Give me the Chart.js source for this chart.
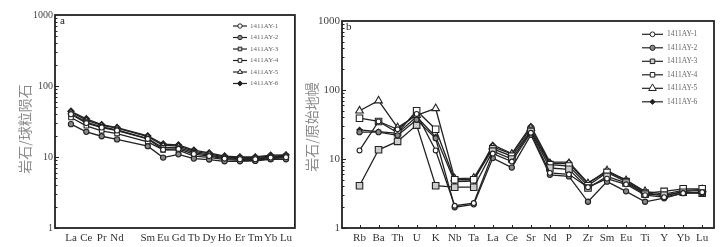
<!DOCTYPE html>
<html lang="zh">
<head>
<meta charset="UTF-8">
<title>REE and trace element patterns</title>
<script src="https://cdn.jsdelivr.net/npm/chart.js"></script>
<style>
    body { margin: 0; background: #fff; }
    #wrap { position: relative; width: 724px; height: 247px; }
    #reeChart { position: absolute; left: 0; top: 0; }
    #traceChart { position: absolute; left: 300px; top: 0; }
</style>
</head>
<body>
<div id="wrap">
    <canvas id="reeChart" width="300" height="247"></canvas>
    <canvas id="traceChart" width="424" height="247"></canvas>
</div>
<script>
// sample names (legend)
const sampleNames = ['1411AY-1', '1411AY-2', '1411AY-3', '1411AY-4', '1411AY-5', '1411AY-6'];

// a: chondrite normalised REE (Pm left blank)
const reeLabels = ['La', 'Ce', 'Pr', 'Nd', '', 'Sm', 'Eu', 'Gd', 'Tb', 'Dy', 'Ho', 'Er', 'Tm', 'Yb', 'Lu'];
const reeAY1 = [40, 30, 26, 23.6, null, 18, 12.7, 13.0, 11.0, 10.3, 9.5, 9.3, 9.3, 9.8, 9.9];
const reeAY2 = [29, 22.6, 19.6, 17.7, null, 14.2, 9.8, 10.9, 9.5, 9.2, 8.7, 8.7, 8.8, 9.3, 9.3];
const reeAY3 = [41, 31, 26.6, 24, null, 18.2, 13.5, 13.6, 11.5, 10.6, 9.7, 9.5, 9.5, 10.0, 10.2];
const reeAY4 = [36, 27.5, 23.4, 21.4, null, 16.3, 12.6, 12.5, 10.3, 9.9, 9.2, 9.0, 9.0, 9.5, 9.8];
const reeAY5 = [43, 33, 28, 25.5, null, 19.3, 14.6, 14.3, 12.0, 11.1, 10.0, 9.8, 9.8, 10.3, 10.5];
const reeAY6 = [44, 34.5, 28.5, 26, null, 19.8, 15.2, 14.8, 12.5, 11.4, 10.3, 10.0, 10.0, 10.6, 10.7];

// b: primitive mantle normalised trace elements
const traceLabels = ['Rb', 'Ba', 'Th', 'U', 'K', 'Nb', 'Ta', 'La', 'Ce', 'Sr', 'Nd', 'P', 'Zr', 'Sm', 'Eu', 'Ti', 'Y', 'Yb', 'Lu'];
const trAY1 = [13.3, 35, 27, 45, 13.3, 2.1, 2.3, 12, 9.2, 24, 6.3, 6.0, 3.9, 5.2, 4.3, 3.0, 2.8, 3.2, 3.3];
const trAY2 = [24.5, 24.5, 22, 37, 20, 2.0, 2.2, 10.3, 7.5, 22.4, 5.9, 5.6, 2.4, 4.7, 3.4, 2.4, 2.7, 3.2, 3.2];
const trAY3 = [4.1, 13.6, 18, 31, 4.1, 3.9, 3.9, 13, 10, 25, 7.4, 7.1, 3.8, 5.6, 4.5, 3.1, 3.0, 3.3, 3.2];
const trAY4 = [39, 35, 24, 50, 27, 5.0, 5.0, 14, 11, 26, 8.3, 7.9, 4.1, 6.4, 4.7, 3.2, 3.4, 3.7, 3.7];
const trAY5 = [50, 70, 28.5, 43, 54, 5.2, 5.3, 15, 11.8, 28, 8.6, 8.6, 4.4, 6.8, 4.9, 3.4, 3.1, 3.5, 3.6];
const trAY6 = [26.5, 25, 23.5, 41, 21, 4.7, 4.8, 16, 12, 30, 9.0, 9.0, 4.5, 6.6, 5.0, 3.3, 2.9, 3.4, 3.5];

const yTickValues = [1, 10, 100, 1000];

// marker looks per sample
const markerStyles = [
    { pointStyle: 'circle', fill: '#fff' },
    { pointStyle: 'circle', fill: '#888' },
    { pointStyle: 'rect', fill: '#ccc' },
    { pointStyle: 'rect', fill: '#fff' },
    { pointStyle: 'triangle', fill: '#fff' },
    { pointStyle: 'rectRot', fill: '#222' }
];

function makeDatasets(series, radii) {
    return series.map((vals, i) => ({
        label: sampleNames[i],
        data: vals.map((v, j) => ({ x: j, y: v })).filter(p => p.y !== null),
        borderColor: '#222',
        borderWidth: 1.3,
        pointStyle: markerStyles[i].pointStyle,
        pointBackgroundColor: markerStyles[i].fill,
        pointBorderColor: '#222',
        pointBorderWidth: 1.1,
        pointRadius: radii[i],
        tension: 0,
        fill: false
    }));
}

function drawMarker(ctx, style, r, x, y) {
    if (window.Chart && Chart.helpers && Chart.helpers.drawPoint) {
        Chart.helpers.drawPoint(ctx, { pointStyle: style, radius: r, rotation: 0, borderWidth: 1 }, x, y);
    } else {
        ctx.beginPath(); ctx.arc(x, y, r, 0, Math.PI * 2); ctx.fill(); ctx.stroke();
    }
}

// frame, inward ticks, panel letter, axis title and legend
function decor(cfg) {
    return {
        id: 'decor',
        afterDraw(chart) {
            const ctx = chart.ctx;
            const a = chart.chartArea;
            const ys = chart.scales.y, xs = chart.scales.x;
            ctx.save();
            ctx.strokeStyle = '#222';
            ctx.lineWidth = 1;
            ctx.beginPath();
            for (let k = 0; k < 3; k++) {
                for (let m = 1; m <= 9; m++) {
                    const y = Math.round(ys.getPixelForValue(m * Math.pow(10, k))) + 0.5;
                    ctx.moveTo(a.left, y);
                    ctx.lineTo(a.left + (m === 1 ? 4 : 2.5), y);
                }
            }
            if (cfg.xTicks) {
                for (let i = 0; i < cfg.labels.length; i++) {
                    const x = Math.round(xs.getPixelForValue(i)) + 0.5;
                    ctx.moveTo(x, a.bottom);
                    ctx.lineTo(x, a.bottom - 3);
                }
            }
            ctx.stroke();

            ctx.lineWidth = 1.8;
            ctx.strokeRect(a.left, a.top, a.right - a.left, a.bottom - a.top);

            ctx.fillStyle = '#222';
            ctx.font = '11px "Liberation Serif"';
            ctx.textBaseline = 'middle';
            ctx.textAlign = 'left';
            ctx.fillText(cfg.letter, cfg.letterX, cfg.letterY);

            ctx.save();
            ctx.translate(cfg.titleX, cfg.titleY);
            ctx.rotate(-Math.PI / 2);
            ctx.textAlign = 'center';
            ctx.fillStyle = '#8c8c8c';
            ctx.font = '14px "Noto Sans CJK SC"';
            ctx.fillText(cfg.title, 0, 0);
            ctx.restore();

            const lg = cfg.legend;
            chart.data.datasets.forEach((ds, i) => {
                const y = lg.y + i * lg.step;
                ctx.strokeStyle = '#222';
                ctx.lineWidth = 1.2;
                ctx.beginPath();
                ctx.moveTo(lg.x0, y);
                ctx.lineTo(lg.x1, y);
                ctx.stroke();
                ctx.fillStyle = ds.pointBackgroundColor;
                ctx.strokeStyle = '#222';
                ctx.lineWidth = 1;
                drawMarker(ctx, ds.pointStyle, lg.radii[i], (lg.x0 + lg.x1) / 2, y);
                ctx.fillStyle = '#666';
                ctx.font = lg.font;
                ctx.textAlign = 'left';
                ctx.fillText(ds.label, lg.tx, y);
            });
            ctx.restore();
        }
    };
}

function makeOptions(labels, xmin, xmax, yWidth, yFont) {
    return {
        responsive: false,
        animation: false,
        layout: { padding: 0 },
        plugins: { legend: { display: false }, tooltip: { enabled: false } },
        elements: { line: { spanGaps: true } },
        scales: {
            x: {
                type: 'linear',
                min: xmin,
                max: xmax,
                grid: { display: false, drawTicks: false },
                border: { display: false },
                afterBuildTicks: s => { s.ticks = labels.map((l, i) => ({ value: i })); },
                afterFit: s => { s.height = 19; },
                ticks: {
                    autoSkip: false,
                    maxRotation: 0,
                    padding: 4,
                    color: '#333',
                    font: { family: 'Liberation Serif', size: 11 },
                    callback: v => labels[v] || ''
                }
            },
            y: {
                type: 'logarithmic',
                min: 1,
                max: 1000,
                grid: { display: false, drawTicks: false },
                border: { display: false },
                afterBuildTicks: s => { s.ticks = yTickValues.map(v => ({ value: v })); },
                afterFit: s => { s.width = yWidth; },
                ticks: {
                    padding: 2,
                    color: '#444',
                    font: { family: 'Liberation Serif', size: yFont },
                    callback: v => String(v)
                }
            }
        }
    };
}

// chart a
const reeRadii = [2.5, 2.6, 3.2, 3.2, 3.2, 3.2];
const reeOpts = makeOptions(reeLabels, -1.04, 14.58, 55, 10);
reeOpts.layout.padding = { left: 0, right: 4, top: 15, bottom: 0 };
new Chart(document.getElementById('reeChart'), {
    type: 'line',
    data: { datasets: makeDatasets([reeAY1, reeAY2, reeAY3, reeAY4, reeAY5, reeAY6], reeRadii) },
    options: reeOpts,
    plugins: [decor({
        labels: reeLabels, xTicks: false,
        letter: 'a', letterX: 60, letterY: 21,
        title: '岩石/球粒陨石', titleX: 25, titleY: 129,
        legend: { x0: 233, x1: 247, tx: 250, y: 26, step: 11.5, radii: [2.2, 2.2, 2.6, 2.6, 2.8, 2.6], font: '7px "Liberation Serif"' }
    })]
});

// chart b
const trRadii = [2.4, 2.6, 4.6, 4.6, 4.4, 2.6];
const trOpts = makeOptions(traceLabels, -0.92, 18.62, 42, 11);
trOpts.layout.padding = { left: 0, right: 10, top: 21, bottom: 0 };
new Chart(document.getElementById('traceChart'), {
    type: 'line',
    data: { datasets: makeDatasets([trAY1, trAY2, trAY3, trAY4, trAY5, trAY6], trRadii) },
    options: trOpts,
    plugins: [decor({
        labels: traceLabels, xTicks: true,
        letter: 'b', letterX: 46, letterY: 27,
        title: '岩石/原始地幔', titleX: 12, titleY: 127,
        legend: { x0: 342, x1: 363, tx: 367, y: 34.3, step: 13.5, radii: [2.4, 2.6, 3.2, 3.2, 4.4, 2.6], font: '7.5px "Liberation Serif"' }
    })]
});
</script>
</body>
</html>
